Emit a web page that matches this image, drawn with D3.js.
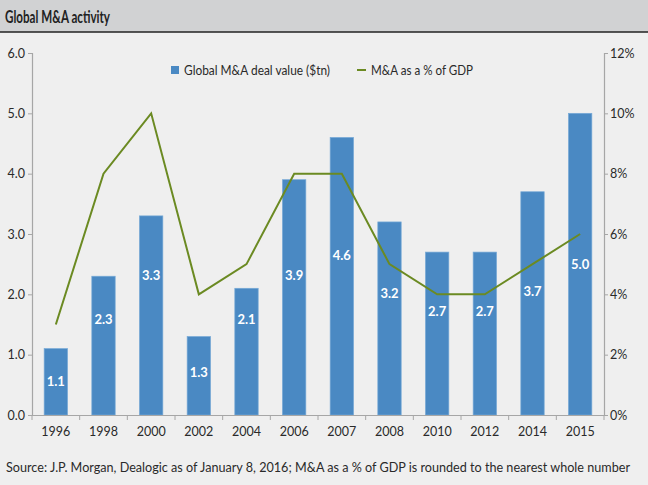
<!DOCTYPE html>
<html><head><meta charset="utf-8">
<script src="https://cdn.jsdelivr.net/npm/d3@7"></script>
<style>
html,body{margin:0;padding:0;background:#efefef;}
svg{display:block;font-family:Lato,"Open Sans",sans-serif;}
</style></head>
<body><svg id="c" width="648" height="485"></svg>
<script>
const categories = ["1996","1998","2000","2002","2004","2006","2007","2008","2010","2012","2014","2015"];
const dealValue = [1.1, 2.3, 3.3, 1.3, 2.1, 3.9, 4.6, 3.2, 2.7, 2.7, 3.7, 5.0];
const gdpPct = [3, 8, 10, 4, 5, 8, 8, 5, 4, 4, 5, 6];
// where each value label sits, in $tn
const labelAt = [0.55, 1.58, 2.32, 0.70, 1.58, 2.32, 2.65, 2.02, 1.72, 1.72, 2.04, 2.5];
const leftTicks = [0, 1, 2, 3, 4, 5, 6];
const rightTicks = [0, 2, 4, 6, 8, 10, 12];
const seriesNames = ["Global M&A deal value ($tn)", "M&A as a % of GDP"];
const title = "Global M&A activity";
const source = "Source: J.P. Morgan, Dealogic as of January 8, 2016; M&A as a % of GDP is rounded to the nearest whole number";

const svg = d3.select("#c");
const W = 648, H = 485;
const m = {l: 32, r: 44, t: 53, b: 70};
const x0 = m.l, x1 = W - m.r, y0 = H - m.b, y1 = m.t;
const BAR = "#4a89c3", LINE = "#6b8a22", AX = "#a6a6a6", TXT = "#2a2a2a";

svg.append("rect").attr("x",0).attr("y",0).attr("width",W).attr("height",H).attr("fill","#efefef");
svg.append("rect").attr("x",0).attr("y",0).attr("width",W).attr("height",32).attr("fill","#d1d2d3");
svg.append("line").attr("x1",0).attr("x2",W).attr("y1",32).attr("y2",32).attr("stroke","#222").attr("stroke-width",1.5);
svg.append("text").attr("x",5).attr("y",22.5).attr("font-size",16.5).attr("font-weight","bold").attr("fill","#222")
  .attr("textLength",105).attr("lengthAdjust","spacingAndGlyphs").text(title);

const x = d3.scaleBand().domain(categories).range([x0, x1]).paddingInner(0.51).paddingOuter(0.255);
const y = d3.scaleLinear().domain([0, 6]).range([y0, y1]);
const y2 = d3.scaleLinear().domain([0, 12]).range([y0, y1]);

// bars
svg.append("g").selectAll("rect").data(categories).join("rect")
  .attr("x", d => x(d)).attr("width", x.bandwidth())
  .attr("y", (d,i) => y(dealValue[i])).attr("height", (d,i) => y(0) - y(dealValue[i]))
  .attr("fill", BAR).attr("stroke","#76a9d6").attr("stroke-width",0.7);

// left axis
const la = svg.append("g").attr("transform",`translate(${x0},0)`)
  .call(d3.axisLeft(y).tickValues(leftTicks).tickFormat(d3.format(".1f")).tickSize(4).tickPadding(3));
// right axis
const ra = svg.append("g").attr("transform",`translate(${x1},0)`)
  .call(d3.axisRight(y2).tickValues(rightTicks).tickFormat(d => d + "%").tickSize(4).tickPadding(2));
// x axis
const xa = svg.append("g").attr("transform",`translate(0,${y0})`)
  .call(d3.axisBottom(x).tickSize(0).tickPadding(12));
// boundary ticks on x axis
const step = x.step();
svg.append("g").selectAll("line").data(d3.range(categories.length + 1)).join("line")
  .attr("x1", i => x0 + i * step).attr("x2", i => x0 + i * step)
  .attr("y1", y0).attr("y2", y0 + 5).attr("stroke", AX);

[la, ra, xa].forEach(g => {
  g.select(".domain").attr("stroke", AX).attr("stroke-width",1.2);
  g.selectAll(".tick line").attr("stroke", AX);
  g.selectAll("text").attr("fill", TXT).attr("font-size", 12.5).attr("font-family","Lato,'Open Sans',sans-serif");
});

// line
const line = d3.line().x((d,i) => x(categories[i]) + x.bandwidth()/2).y(d => y2(d));
svg.append("path").datum(gdpPct).attr("d", line).attr("fill","none")
  .attr("stroke", LINE).attr("stroke-width", 2).attr("stroke-linejoin","miter");

// value labels
svg.append("g").selectAll("text").data(categories).join("text")
  .attr("x", d => x(d) + x.bandwidth()/2).attr("y", (d,i) => y(labelAt[i]))
  .attr("dy","0.35em").attr("text-anchor","middle").attr("fill","#fff")
  .attr("font-size",13).attr("font-weight","bold")
  .text((d,i) => d3.format(".1f")(dealValue[i]));

// legend
const lg = svg.append("g");
lg.append("rect").attr("x",171).attr("y",66).attr("width",8).attr("height",8).attr("fill",BAR);
lg.append("text").attr("x",184).attr("y",74.5).attr("font-size",12.5).attr("fill",TXT)
  .attr("textLength",146).attr("lengthAdjust","spacingAndGlyphs").text(seriesNames[0]);
lg.append("line").attr("x1",357).attr("x2",366).attr("y1",70).attr("y2",70).attr("stroke",LINE).attr("stroke-width",2);
lg.append("text").attr("x",371).attr("y",74.5).attr("font-size",12.5).attr("fill",TXT)
  .attr("textLength",102).attr("lengthAdjust","spacingAndGlyphs").text(seriesNames[1]);

// source
svg.append("text").attr("x",6).attr("y",472).attr("font-size",12.8).attr("fill",TXT)
  .attr("textLength",624).attr("lengthAdjust","spacingAndGlyphs").text(source);
</script></body></html>
